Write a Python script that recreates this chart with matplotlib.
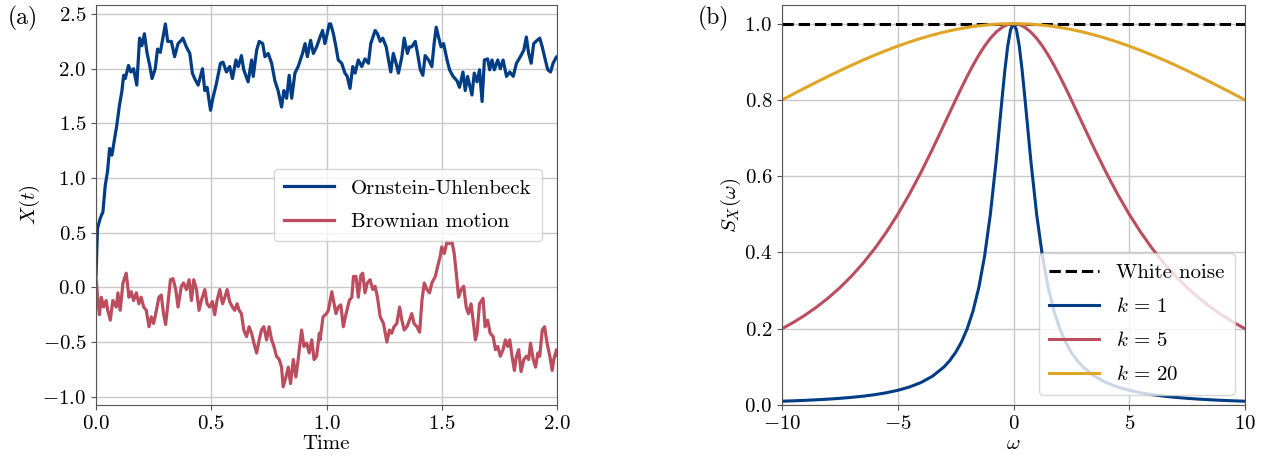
import matplotlib
matplotlib.use("Agg")
import matplotlib.pyplot as plt

plt.rcParams['font.family'] = 'serif'
plt.rcParams['font.serif'] = ['cmr10', 'DejaVu Serif']
plt.rcParams['mathtext.fontset'] = 'cm'
plt.rcParams['axes.formatter.use_mathtext'] = True
plt.rcParams['axes.unicode_minus'] = True
plt.rcParams['font.size'] = 15

BLUE = '#003d84'
RED = '#bb4d5f'
GOLD = '#e0a526'

# (a) sample paths
ou_t = [0.0, 0.0065, 0.018, 0.03, 0.04, 0.05, 0.059, 0.069, 0.076, 0.09, 0.102, 0.112, 0.12, 0.127,
        0.141, 0.151, 0.163, 0.177, 0.189, 0.199, 0.21, 0.221, 0.233, 0.243, 0.257, 0.267, 0.279,
        0.29, 0.301, 0.311, 0.327, 0.341, 0.356, 0.37, 0.377, 0.392, 0.407, 0.418, 0.428, 0.443,
        0.462, 0.472, 0.482, 0.497, 0.508, 0.522, 0.54, 0.551, 0.566, 0.58, 0.592, 0.607, 0.617,
        0.631, 0.641, 0.66, 0.675, 0.682, 0.697, 0.708, 0.723, 0.733, 0.747, 0.762, 0.776, 0.79,
        0.805, 0.815, 0.827, 0.838, 0.849, 0.863, 0.877, 0.896, 0.907, 0.917, 0.931, 0.943, 0.957,
        0.972, 0.983, 0.993, 1.003, 1.012, 1.018, 1.03, 1.041, 1.051, 1.066, 1.08, 1.09, 1.102,
        1.114, 1.124, 1.138, 1.153, 1.167, 1.182, 1.192, 1.211, 1.221, 1.233, 1.244, 1.259, 1.269,
        1.279, 1.29, 1.302, 1.312, 1.327, 1.337, 1.351, 1.36, 1.37, 1.385, 1.395, 1.407, 1.418,
        1.428, 1.443, 1.457, 1.467, 1.476, 1.486, 1.497, 1.508, 1.523, 1.534, 1.549, 1.566, 1.577,
        1.592, 1.602, 1.612, 1.631, 1.641, 1.653, 1.664, 1.675, 1.685, 1.699, 1.708, 1.718, 1.728,
        1.743, 1.754, 1.766, 1.781, 1.795, 1.81, 1.824, 1.841, 1.856, 1.867, 1.877, 1.888, 1.899,
        1.914, 1.925, 1.936, 1.946, 1.96, 1.972, 1.983, 1.998, 2.0]
ou_x = [0.1, 0.54, 0.63, 0.69, 0.93, 1.06, 1.27, 1.21, 1.30, 1.48, 1.67, 1.79, 1.94, 1.91,
        2.03, 1.97, 2.00, 1.85, 2.28, 2.21, 2.32, 2.15, 2.03, 1.91, 2.00, 2.18, 2.15,
        2.28, 2.41, 2.25, 2.25, 2.11, 2.23, 2.26, 2.28, 2.20, 2.14, 1.96, 1.91, 1.85,
        2.00, 1.80, 1.83, 1.62, 1.74, 1.86, 2.05, 2.06, 1.97, 2.02, 1.91, 2.08, 2.02,
        2.12, 1.99, 1.88, 2.08, 1.93, 2.17, 2.25, 2.23, 2.11, 2.14, 2.05, 1.89, 1.80,
        1.65, 1.80, 1.73, 1.94, 1.73, 1.96, 2.02, 2.14, 2.23, 2.11, 2.26, 2.14, 2.20,
        2.29, 2.35, 2.23, 2.32, 2.41, 2.41, 2.32, 2.20, 2.08, 2.05, 1.96, 1.93, 1.82,
        2.02, 1.96, 2.08, 2.02, 2.09, 2.05, 2.23, 2.35, 2.32, 2.25, 2.28, 2.20, 2.08,
        1.97, 2.14, 2.05, 1.96, 2.11, 2.28, 2.14, 2.20, 2.20, 2.25, 2.14, 1.99, 1.94,
        2.12, 2.08, 2.02, 2.23, 2.38, 2.29, 2.20, 2.23, 2.08, 1.99, 1.93, 1.89, 1.83,
        1.97, 1.80, 1.93, 1.76, 1.96, 1.88, 1.99, 1.70, 2.08, 2.09, 1.99, 2.08, 1.99,
        2.08, 2.00, 2.08, 1.93, 1.97, 1.93, 2.05, 2.11, 2.17, 2.29, 2.14, 2.05, 2.23,
        2.26, 2.28, 2.20, 2.11, 1.99, 1.97, 2.05, 2.11, 2.10]

bm_t = [0.0, 0.001, 0.008, 0.015, 0.023, 0.033, 0.044, 0.051, 0.062, 0.073, 0.088, 0.095, 0.105,
        0.117, 0.131, 0.143, 0.153, 0.163, 0.175, 0.186, 0.196, 0.207, 0.218, 0.23, 0.24, 0.25,
        0.262, 0.273, 0.283, 0.293, 0.302, 0.312, 0.323, 0.334, 0.346, 0.356, 0.37, 0.38, 0.392,
        0.404, 0.414, 0.424, 0.436, 0.447, 0.457, 0.472, 0.482, 0.493, 0.505, 0.515, 0.525, 0.537,
        0.549, 0.559, 0.569, 0.58, 0.592, 0.602, 0.612, 0.621, 0.631, 0.641, 0.653, 0.664, 0.675,
        0.685, 0.697, 0.708, 0.718, 0.728, 0.74, 0.751, 0.762, 0.772, 0.783, 0.795, 0.805, 0.812,
        0.824, 0.834, 0.844, 0.856, 0.867, 0.877, 0.892, 0.902, 0.914, 0.925, 0.936, 0.946, 0.957,
        0.969, 0.972, 0.985, 1.0, 1.008, 1.023, 1.033, 1.041, 1.051, 1.062, 1.073, 1.085, 1.099,
        1.11, 1.117, 1.128, 1.138, 1.149, 1.157, 1.167, 1.177, 1.189, 1.201, 1.211, 1.221, 1.233,
        1.247, 1.255, 1.262, 1.273, 1.283, 1.293, 1.305, 1.317, 1.327, 1.337, 1.349, 1.36, 1.37,
        1.38, 1.392, 1.404, 1.414, 1.424, 1.436, 1.447, 1.457, 1.472, 1.482, 1.493, 1.5, 1.511,
        1.523, 1.534, 1.544, 1.554, 1.563, 1.573, 1.584, 1.595, 1.606, 1.616, 1.627, 1.636, 1.646,
        1.653, 1.664, 1.679, 1.688, 1.699, 1.71, 1.723, 1.733, 1.743, 1.754, 1.766, 1.776, 1.786,
        1.795, 1.805, 1.815, 1.824, 1.834, 1.844, 1.856, 1.867, 1.877, 1.885, 1.897, 1.907, 1.917,
        1.925, 1.936, 1.946, 1.957, 1.969, 1.979, 1.986, 1.998, 2.0]
bm_x = [0.0, 0.07, -0.12, -0.25, -0.09, -0.18, -0.12, -0.21, -0.30, -0.12, -0.18, -0.05, -0.21,
        0.04, 0.13, -0.09, -0.04, -0.12, -0.05, -0.15, -0.09, -0.18, -0.21, -0.36, -0.27, -0.33,
        -0.21, -0.09, -0.07, -0.24, -0.34, -0.15, 0.07, 0.08, -0.02, -0.18, 0.01, 0.04, -0.02,
        0.07, -0.12, 0.07, -0.02, -0.21, -0.12, -0.02, -0.15, -0.18, -0.13, -0.25, -0.12, -0.02,
        -0.15, -0.09, -0.02, -0.13, -0.18, -0.21, -0.15, -0.21, -0.24, -0.39, -0.45, -0.36, -0.42,
        -0.51, -0.60, -0.48, -0.39, -0.36, -0.48, -0.36, -0.48, -0.54, -0.63, -0.66, -0.73, -0.91,
        -0.82, -0.73, -0.88, -0.66, -0.82, -0.66, -0.39, -0.54, -0.51, -0.60, -0.48, -0.66, -0.63,
        -0.42, -0.48, -0.27, -0.24, -0.21, -0.04, -0.15, -0.24, -0.18, -0.16, -0.36, -0.24, -0.12,
        -0.09, 0.10, 0.10, -0.09, 0.11, 0.13, -0.05, 0.04, 0.07, -0.02, 0.01, -0.09, -0.27,
        -0.33, -0.42, -0.50, -0.39, -0.42, -0.36, -0.33, -0.18, -0.30, -0.39, -0.36, -0.30, -0.24,
        -0.33, -0.36, -0.41, -0.12, 0.04, -0.02, -0.05, 0.04, 0.10, 0.19, 0.28, 0.37, 0.31,
        0.42, 0.40, 0.42, 0.31, 0.13, -0.09, -0.02, 0.01, -0.18, -0.24, -0.15, -0.30, -0.48,
        -0.42, -0.15, -0.10, -0.36, -0.30, -0.42, -0.45, -0.57, -0.54, -0.63, -0.57, -0.48, -0.54,
        -0.48, -0.63, -0.76, -0.63, -0.57, -0.77, -0.66, -0.63, -0.66, -0.51, -0.66, -0.73, -0.60,
        -0.63, -0.39, -0.36, -0.51, -0.63, -0.76, -0.66, -0.57, -0.62]

# (b) spectral densities (curves are symmetric in omega)
omega_half = [0, 0.125, 0.25, 0.375, 0.5, 0.75, 1, 1.25, 1.5, 1.75, 2, 2.25, 2.5, 2.75, 3, 3.5,
              4, 4.5, 5, 5.5, 6, 6.5, 7, 7.5, 8, 8.5, 9, 9.5, 10]
s_k1_half = [1.0, 0.9846, 0.9412, 0.8767, 0.800, 0.640, 0.500, 0.3902, 0.3077, 0.2462, 0.200,
             0.1649, 0.1379, 0.1168, 0.100, 0.0755, 0.0588, 0.0471, 0.0385, 0.032, 0.027,
             0.0231, 0.020, 0.0175, 0.0154, 0.0137, 0.0122, 0.011, 0.0099]
s_k5_half = [1.0, 0.9994, 0.9975, 0.9944, 0.9901, 0.978, 0.9615, 0.9412, 0.9174, 0.8909, 0.8621,
             0.8316, 0.800, 0.7678, 0.7353, 0.6711, 0.6098, 0.5525, 0.500, 0.4525, 0.4098,
             0.3717, 0.3378, 0.3077, 0.2809, 0.2571, 0.2358, 0.2169, 0.200]
s_k20_half = [1.0, 0.99996, 0.9998, 0.99965, 0.9994, 0.9986, 0.9975, 0.9961, 0.9944, 0.9924,
              0.9901, 0.9875, 0.9846, 0.9814, 0.978, 0.9703, 0.9615, 0.9518, 0.9412, 0.9297,
              0.9174, 0.9045, 0.8909, 0.8767, 0.8621, 0.847, 0.8316, 0.8159, 0.800]
omega = [-w for w in omega_half[::-1]] + omega_half[1:]
s_k1 = s_k1_half[::-1] + s_k1_half[1:]
s_k5 = s_k5_half[::-1] + s_k5_half[1:]
s_k20 = s_k20_half[::-1] + s_k20_half[1:]
white = [1.0, 1.0]

fig = plt.figure(figsize=(12.7, 4.63), dpi=100)
ax1 = fig.add_axes([96 / 1270, 58 / 463, 461 / 1270, 400 / 463])
ax2 = fig.add_axes([782 / 1270, 58 / 463, 463 / 1270, 400 / 463])

grid_kw = dict(color='#c8c8c8', linewidth=1.0)

ax1.plot(ou_t, ou_x, color=BLUE, lw=2.3, label='Ornstein-Uhlenbeck')
ax1.plot(bm_t, bm_x, color=RED, lw=2.3, label='Brownian motion')
ax1.set_xlim(0, 2)
ax1.set_ylim(-1.076, 2.583)
ax1.set_xticks([0, 0.5, 1.0, 1.5, 2.0])
ax1.set_yticks([-1.0, -0.5, 0.0, 0.5, 1.0, 1.5, 2.0, 2.5])
ax1.grid(True, **grid_kw)
ax1.set_axisbelow(True)
ax1.set_xlabel('Time', labelpad=2)
ax1.set_ylabel('$X(t)$', labelpad=0)
ax1.legend(loc='center right', fontsize=15, framealpha=0.8, borderpad=0.5,
           handlelength=2.4, labelspacing=0.7, bbox_to_anchor=(0.99, 0.5))

ax2.plot([-10, 10], white, color='black', lw=2.2, ls='--', label='White noise')
ax2.plot(omega, s_k1, color=BLUE, lw=2.2, label=r'$k\,=\,1$')
ax2.plot(omega, s_k5, color=RED, lw=2.2, label=r'$k\,=\,5$')
ax2.plot(omega, s_k20, color=GOLD, lw=2.2, label=r'$k\,=\,20$')
ax2.set_xlim(-10, 10)
ax2.set_ylim(0, 1.049)
ax2.set_xticks([-10, -5, 0, 5, 10])
ax2.set_yticks([0.0, 0.2, 0.4, 0.6, 0.8, 1.0])
ax2.grid(True, **grid_kw)
ax2.set_axisbelow(True)
ax2.set_xlabel(r'$\omega$', labelpad=2)
ax2.set_ylabel(r'$S_X(\omega)$', labelpad=1)
ax2.legend(loc='lower right', fontsize=15, framealpha=0.8, borderpad=0.5,
           handlelength=2.4, labelspacing=0.72)

for ax in (ax1, ax2):
    for sp in ax.spines.values():
        sp.set_color('#555555')
    ax.tick_params(labelsize=15, color='#555555')

fig.text(8 / 1270, 1 - 18 / 463, '(a)', fontsize=17, va='center')
fig.text(698 / 1270, 1 - 18 / 463, '(b)', fontsize=17, va='center')

fig.savefig('out.png', dpi=100)
